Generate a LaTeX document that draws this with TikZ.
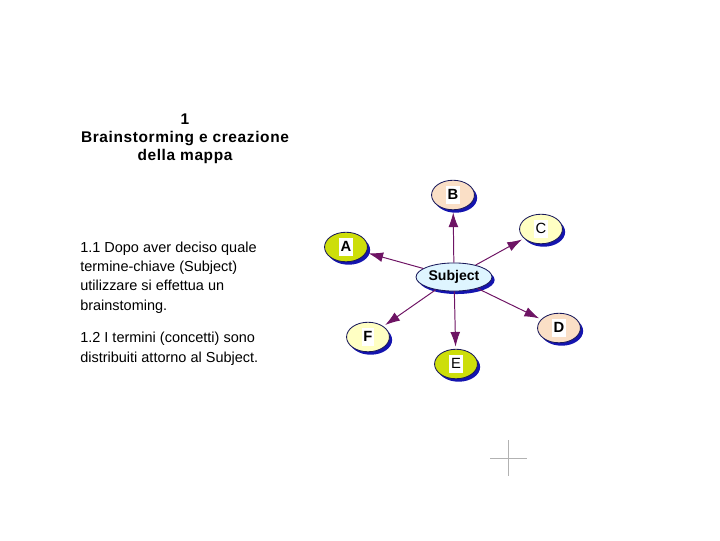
\documentclass[tikz,border=0pt]{standalone}
\usepackage{fontspec}
\setmainfont{Liberation Sans}
\newfontfamily\titlefont[LetterSpace=4]{Liberation Sans}
\usetikzlibrary{shapes.geometric}
\usetikzlibrary{shadows}
\usetikzlibrary{arrows.meta}

\definecolor{edgeblue}{RGB}{25,25,90}
\definecolor{shadeblue}{RGB}{20,20,175}
\definecolor{linkpurple}{RGB}{110,20,100}
\definecolor{leafgreen}{RGB}{205,222,10}
\definecolor{leafpeach}{RGB}{250,223,198}
\definecolor{leafyellow}{RGB}{255,255,195}
\definecolor{subjcyan}{RGB}{222,245,255}

\newcommand{\lbl}[1]{{\setlength{\fboxsep}{1.2pt}\colorbox{white}{\rule[-2.4pt]{0pt}{10.6pt}#1}}}

\begin{document}
\begin{tikzpicture}[x=0.025cm, y=-0.025cm,
    bubble/.style={ellipse, draw=edgeblue, line width=0.6pt, inner sep=0pt,
      drop shadow={shadow xshift=1.9pt, shadow yshift=-2.1pt, fill=shadeblue, opacity=1}},
    leaf/.style={bubble, minimum width=30.5pt, minimum height=21pt, font=\bfseries\fontsize{10.5}{12}\selectfont},
    link/.style={draw=linkpurple, line width=0.7pt, -{Latex[length=10.5pt,width=7pt]}, shorten >=1.5pt},
    note/.style={align=left, inner sep=0pt, font=\fontsize{10.3}{13.6}\selectfont},
    cross/.style={draw=black!30, line width=0.7pt}]
  \useasboundingbox (0,0) rectangle (720,540);
  % titolo e testo
  \node[anchor=base, align=center, inner sep=0pt, font=\titlefont\bfseries\fontsize{11}{12.8}\selectfont] (T) at (185,160)
    {1\\Brainstorming e creazione\\della mappa};
  \node[note, anchor=base west] (P1) at (80,310)
    {1.1 Dopo aver deciso quale\\termine-chiave (Subject)\\utilizzare si effettua un\\brainstoming.};
  \node[note, anchor=base west] (P2) at (80,362)
    {1.2 I termini (concetti) sono\\distribuiti attorno al Subject.};
  % mappa
  \node[bubble, fill=subjcyan, minimum width=54pt, minimum height=20pt,
        font=\bfseries\fontsize{10}{12}\selectfont] (S) at (454,277) {Subject};
  \node[leaf, fill=leafgreen] (A) at (346,247) {\lbl{A}};
  \node[leaf, fill=leafpeach] (B) at (453,195) {\lbl{B}};
  \node[leaf, fill=leafyellow] (C) at (541,229) {\lbl{\mdseries C}};
  \node[leaf, fill=leafpeach] (D) at (559,328) {\lbl{D}};
  \node[leaf, fill=leafgreen] (E) at (456,364) {\lbl{\mdseries E}};
  \node[leaf, fill=leafyellow] (F) at (368,337) {\lbl{F}};
  \draw[link] (S) -- (A);
  \draw[link] (S) -- (B);
  \draw[link] (S) -- (C);
  \draw[link] (S) -- (D);
  \draw[link] (S) -- (E);
  \draw[link] (S) -- (F);
  % crocetta
  \draw[cross] (508,440) -- (508,476);
  \draw[cross] (490,458) -- (527,458);
\end{tikzpicture}
\end{document}
